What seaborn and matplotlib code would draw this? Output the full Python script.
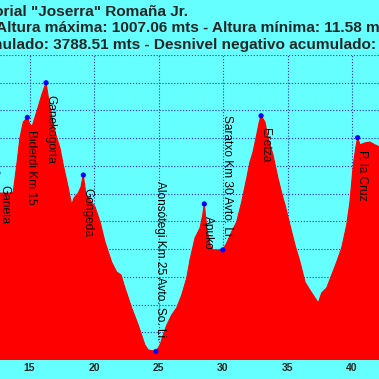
import pandas as pd
import seaborn as sns
import matplotlib.pyplot as plt

# perfil del recorrido (km, altura en m)
km = [12.55, 12.71, 13.64, 13.74, 14.01, 14.26, 14.52, 14.83, 15.04, 15.22, 15.56, 15.95, 16.28,
      16.59, 16.98, 17.36, 17.62, 18.01, 18.27, 18.45, 18.78, 18.99, 19.17, 19.38, 19.69, 20.08,
      20.47, 20.85, 21.37, 21.76, 22.09, 22.40, 22.92, 23.43, 23.95, 24.21, 24.80, 25.12, 25.37,
      25.64, 26.02, 26.41, 26.80, 27.19, 27.44, 27.83, 28.22, 28.43, 28.55, 28.74, 28.99, 29.22,
      29.61, 29.98, 30.29, 30.67, 31.06, 31.45, 31.84, 32.09, 32.33, 32.61, 32.81, 32.95, 33.26,
      33.49, 33.88, 34.26, 34.65, 34.81, 35.19, 35.58, 35.97, 36.36, 36.74, 37.13, 37.39, 37.65,
      38.04, 38.43, 38.81, 39.20, 39.59, 39.84, 40.10, 40.29, 40.44, 40.62, 41.01, 41.40, 41.78,
      42.15]
altura = [602, 602, 602, 606, 703, 801, 858, 875, 848, 845, 895, 956, 1000,
          909, 822, 765, 703, 620, 559, 584, 602, 624, 667, 595, 577, 552,
          498, 426, 353, 317, 307, 260, 188, 126, 54, 36, 31, 54, 90,
          126, 162, 188, 234, 296, 361, 440, 476, 523, 563, 476, 415, 397,
          397, 397, 422, 462, 498, 570, 656, 714, 750, 812, 858, 881, 858,
          801, 739, 656, 584, 559, 487, 415, 353, 281, 252, 224, 206, 242,
          260, 307, 353, 404, 487, 570, 703, 765, 802, 776, 783, 786, 776,
          768]

# puntos de paso
puntos = ['Ganeta', 'Biderdi Km 15', 'Ganekogorta', 'Gongeda',
          'Alonsótegi Km 25 Avto. So. Li.', 'Apuko', 'Saratxo Km 30 Avto. Li.',
          'Eretza', 'P. la Cruz']
puntos_km = [12.55, 14.83, 16.28, 19.17, 24.80, 28.55, 29.98, 32.95, 40.44]
puntos_alt = [675, 875, 1000, 667, 31, 563, 397, 881, 802]

titulo = ['Memorial "Joserra" Romaña Jr.',
          'Altura máxima: 1007.06 mts - Altura mínima: 11.58 mts',
          'acumulado: 3788.51 mts - Desnivel negativo acumulado:']

df = pd.DataFrame({'km': km, 'altura': altura})
dp = pd.DataFrame({'punto': puntos, 'km': puntos_km, 'altura': puntos_alt})

fondo = '#66ffff'
sns.set_style('white')
plt.rcParams['font.family'] = ['Liberation Sans', 'DejaVu Sans']

fig = plt.figure(figsize=(3.79, 3.79), dpi=100, facecolor=fondo)
ax = fig.add_axes([0, 19 / 379, 1, 305 / 379])
ax.set_facecolor(fondo)

ax.fill_between(df['km'], 0, df['altura'], color='#ff0000', lw=0, zorder=1)
sns.lineplot(data=df, x='km', y='altura', color='#ff0000', lw=0.8, ax=ax, zorder=2)
sns.scatterplot(data=dp, x='km', y='altura', color='#0000ff', s=14, edgecolor='none',
                ax=ax, zorder=4)

encima = ['Alonsótegi Km 25 Avto. So. Li.', 'Saratxo Km 30 Avto. Li.']
for _, r in dp.iterrows():
    if r['punto'] in encima:
        ax.annotate(r['punto'], (r['km'], r['altura']), xytext=(3, 8), textcoords='offset points',
                    rotation=270, ha='center', va='bottom', fontsize=8.6, color='black',
                    annotation_clip=False, zorder=5)
    else:
        dx = 4.5 if r['punto'] == 'Ganeta' else 3
        ax.annotate(r['punto'], (r['km'], r['altura']), xytext=(dx, -9), textcoords='offset points',
                    rotation=270, ha='center', va='top', fontsize=8.6, color='black',
                    annotation_clip=False, zorder=5)

ax.set_xlim(12.713, 42.093)
ax.set_ylim(0, 1100)
ax.set_xticks([15, 20, 25, 30, 35, 40])
ax.set_yticks(range(0, 1101, 100))
ax.set_yticklabels([])
ax.grid(True, color='#2a2ad0', linestyle=':', linewidth=0.8)
for l in ax.get_xgridlines() + ax.get_ygridlines():
    l.set_zorder(3)
ax.tick_params(axis='x', length=0, pad=2, labelsize=7.5)
for t in ax.get_xticklabels():
    t.set_fontweight('bold')
ax.tick_params(axis='y', length=0)
ax.set_xlabel('')
ax.set_ylabel('')
for s in ax.spines.values():
    s.set_visible(False)

fig.text(188 / 379, 1 - 15.5 / 379, titulo[0], ha='right', va='baseline', fontsize=11.1,
         fontweight='bold')
fig.text(-4 / 379, 1 - 32 / 379, titulo[1], ha='left', va='baseline', fontsize=11.1,
         fontweight='bold')
fig.text(376 / 379, 1 - 48.5 / 379, titulo[2], ha='right', va='baseline', fontsize=11.1,
         fontweight='bold')

plt.savefig('out.png', dpi=100, facecolor=fondo)
